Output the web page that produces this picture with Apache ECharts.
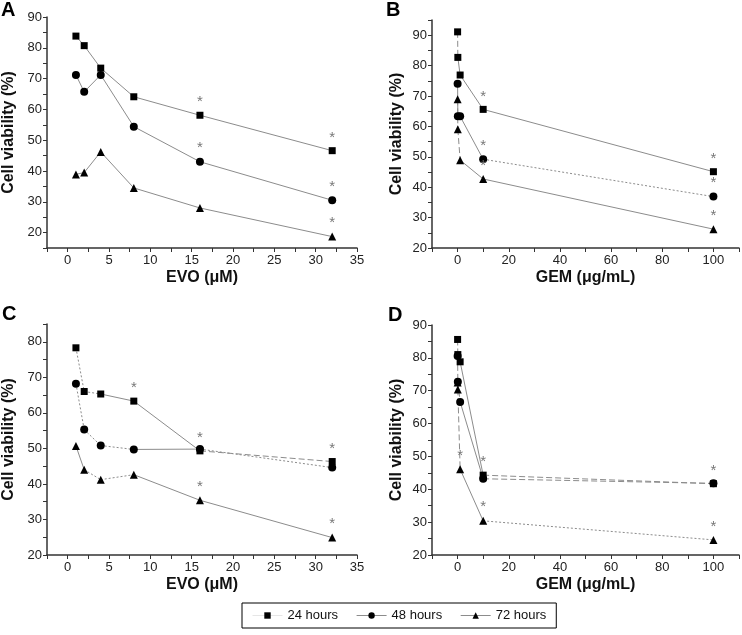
<!DOCTYPE html>
<html><head><meta charset="utf-8">
<script src="https://cdn.jsdelivr.net/npm/echarts@6/dist/echarts.min.js"></script>
<style>html,body{margin:0;padding:0;background:#fff}#c{width:742px;height:635px}</style>
</head><body><div id="c"></div>
<script>
// ---- data ----
const xEVO = [1, 2, 4, 8, 16, 32];
const xGEM = [0.01, 0.1, 1, 10, 100];
const seriesNames = ['24 hours', '48 hours', '72 hours'];

const aH24 = [83.8, 80.7, 73.4, 64.1, 58.1, 46.6];
const aH48 = [71.2, 65.7, 71.2, 54.4, 43.0, 30.5];
const aH72 = [38.9, 39.5, 46.2, 34.5, 28.0, 18.7];
const aSig24 = [0, 0, 0, 0, 1, 1];
const aSig48 = [0, 0, 0, 0, 1, 1];
const aSig72 = [0, 0, 0, 0, 0, 1];

const bH24 = [91.1, 82.7, 76.9, 65.6, 45.1];
const bH48 = [74.0, 63.3, 63.3, 49.2, 36.9];
const bH72 = [68.9, 59.1, 48.9, 42.7, 26.2];
const bSig24 = [0, 0, 0, 1, 1];
const bSig48 = [0, 0, 0, 1, 1];
const bSig72 = [0, 0, 0, 1, 1];

const cH24 = [78.3, 66.0, 65.3, 63.3, 49.3, 46.3];
const cH48 = [68.2, 55.3, 50.8, 49.7, 49.8, 44.6];
const cH72 = [50.7, 44.0, 41.2, 42.6, 35.4, 24.9];
const cSig24 = [0, 0, 0, 1, 1, 1];
const cSig48 = [0, 0, 0, 0, 0, 0];
const cSig72 = [0, 0, 0, 0, 1, 1];

const dH24 = [85.6, 81.0, 78.8, 44.3, 41.7];
const dH48 = [80.6, 72.7, 66.6, 43.2, 41.8];
const dH72 = [72.5, 70.4, 46.1, 30.4, 24.6];
const dSig24 = [0, 0, 0, 1, 1];
const dSig48 = [0, 0, 0, 0, 0];
const dSig72 = [0, 0, 1, 1, 1];

// segment line styles (style only)
const S = 'solid', DA = 'dashed', DO = 'dotted';
const aSeg = [[S,S,S,S,S],[S,S,S,S,S],[S,S,S,S,S]];
const bSeg = [[DA,S,S,S],[S,S,S,DO],[DA,DA,S,S]];
const cSeg = [[DO,DO,S,S,DA],[DO,DO,DO,S,DO],[S,DO,DO,S,S]];
const dSeg = [[DA,DO,S,DA],[DA,DA,S,DA],[DA,DA,S,DO]];

// ---- chart ----
const FONT = 'Liberation Sans, Arial, sans-serif';
const LINE_COLOR = '#8c8c8c';
const dashMap = {solid: 'solid', dashed: [6, 3], dotted: [2, 2]};
const symbols = ['rect', 'circle', 'triangle'];
const symSizes = [7, 8, 8];

const grids = [
  {left: 47, top: 17, width: 310, height: 231},
  {left: 432, top: 20, width: 310, height: 228},
  {left: 47, top: 324, width: 310, height: 231},
  {left: 432, top: 325, width: 310, height: 230}
];

function xAxisDef(gi, kind) {
  const evo = kind === 'EVO';
  return {
    gridIndex: gi, type: 'value',
    min: evo ? -2.5 : -10, max: evo ? 35 : 110, interval: evo ? 2.5 : 10,
    name: evo ? 'EVO (\u03bcM)' : 'GEM (\u03bcg/mL)',
    nameLocation: 'middle', nameGap: 22,
    nameTextStyle: {fontFamily: FONT, fontWeight: 'bold', fontSize: 16, color: '#111'},
    axisLine: {show: true, onZero: false, lineStyle: {color: '#333', width: 1.5}},
    axisTick: {show: true, length: 4, lineStyle: {color: '#333'}},
    axisLabel: {
      fontFamily: FONT, fontSize: 13, color: '#222', margin: 6,
      formatter: v => {
        if (evo) return (v >= 0 && Math.abs(v % 5) < 1e-9) ? String(v) : '';
        return (v >= 0 && v <= 100 && v % 20 === 0) ? String(v) : '';
      }
    },
    splitLine: {show: false}
  };
}
function yAxisDef(gi, min, max, gap) {
  return {
    gridIndex: gi, type: 'value', min: min, max: max, interval: 5,
    name: 'Cell viability (%)', nameLocation: 'middle', nameGap: gap,
    nameTextStyle: {fontFamily: FONT, fontWeight: 'bold', fontSize: 16, color: '#111'},
    axisLine: {show: true, onZero: false, lineStyle: {color: '#333', width: 1.5}},
    axisTick: {show: true, length: 4, lineStyle: {color: '#333'}},
    axisLabel: {
      fontFamily: FONT, fontSize: 13, color: '#222', margin: 5,
      formatter: v => (v % 10 === 0 && v <= 90) ? String(v) : ''
    },
    splitLine: {show: false}
  };
}

const series = [];
function addPanel(gi, xs, ys3, sigs3, segs3) {
  ys3.forEach((ys, k) => {
    // line segments
    for (let i = 0; i < xs.length - 1; i++) {
      series.push({
        type: 'line', xAxisIndex: gi, yAxisIndex: gi, silent: true,
        showSymbol: false, symbol: 'none', animation: false, z: 2,
        data: [[xs[i], ys[i]], [xs[i + 1], ys[i + 1]]],
        lineStyle: {color: LINE_COLOR, width: 1, type: dashMap[segs3[k][i]]}
      });
    }
    // markers with significance asterisks
    series.push({
      name: seriesNames[k], type: 'line', xAxisIndex: gi, yAxisIndex: gi,
      symbol: symbols[k], symbolSize: symSizes[k], showAllSymbol: true,
      animation: false, z: 5 + k,
      lineStyle: {width: 0, opacity: 0},
      itemStyle: {color: '#000'},
      data: xs.map((x, i) => ({
        value: [x, ys[i]],
        label: {
          show: !!sigs3[k][i], position: 'top', distance: 2, formatter: '*',
          fontFamily: FONT, fontSize: 15, color: '#777'
        }
      }))
    });
  });
}
addPanel(0, xEVO, [aH24, aH48, aH72], [aSig24, aSig48, aSig72], aSeg);
addPanel(1, xGEM, [bH24, bH48, bH72], [bSig24, bSig48, bSig72], bSeg);
addPanel(2, xEVO, [cH24, cH48, cH72], [cSig24, cSig48, cSig72], cSeg);
addPanel(3, xGEM, [dH24, dH48, dH72], [dSig24, dSig48, dSig72], dSeg);

const letterStyle = {fontFamily: FONT, fontWeight: 'bold', fontSize: 20, fill: '#000'};
const option = {
  backgroundColor: '#fff',
  animation: false,
  grid: grids,
  xAxis: [xAxisDef(0, 'EVO'), xAxisDef(1, 'GEM'), xAxisDef(2, 'EVO'), xAxisDef(3, 'GEM')],
  yAxis: [yAxisDef(0, 15, 90, 30), yAxisDef(1, 20, 95, 27), yAxisDef(2, 20, 85, 30), yAxisDef(3, 20, 90, 27)],
  legend: {
    left: 242, top: 603, orient: 'horizontal',
    borderColor: '#000', borderWidth: 1, padding: [6, 10, 6, 10],
    itemGap: 18, itemWidth: 30, itemHeight: 8,
    textStyle: {fontFamily: FONT, fontSize: 13, color: '#111'},
    data: [
      {name: '24 hours', lineStyle: {color: '#e6e6e6', width: 1, opacity: 1}},
      {name: '48 hours', lineStyle: {color: LINE_COLOR, width: 1, opacity: 1}},
      {name: '72 hours', lineStyle: {color: LINE_COLOR, width: 1, opacity: 1}}
    ]
  },
  graphic: [
    {type: 'text', left: 1, top: 0, style: Object.assign({text: 'A'}, letterStyle)},
    {type: 'text', left: 386, top: 0, style: Object.assign({text: 'B'}, letterStyle)},
    {type: 'text', left: 2, top: 304, style: Object.assign({text: 'C'}, letterStyle)},
    {type: 'text', left: 388, top: 305, style: Object.assign({text: 'D'}, letterStyle)}
  ],
  series: series
};
const chart = echarts.init(document.getElementById('c'), null, {renderer: 'canvas'});
chart.setOption(option);
</script>
</body></html>
